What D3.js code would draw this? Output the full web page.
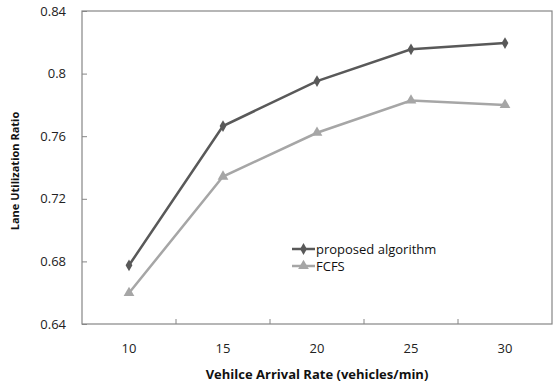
<!DOCTYPE html>
<html>
<head>
<meta charset="utf-8">
<script src="https://cdn.jsdelivr.net/npm/d3@7"></script>
<style>
  body { margin: 0; background: #fff; }
  text { font-family: "Open Sans", "Liberation Sans", sans-serif; }
</style>
</head>
<body>
<svg id="chart" width="553" height="385"></svg>
<script>
// data
var rates = ["10", "15", "20", "25", "30"];
var proposed = [0.6775, 0.7665, 0.7952, 0.8155, 0.8195];
var fcfs = [0.6598, 0.7342, 0.7622, 0.7828, 0.7800];
var yTicks = [0.64, 0.68, 0.72, 0.76, 0.8, 0.84];

var svg = d3.select("#chart");
var margin = {top: 11, right: 1, bottom: 61, left: 82},
    width = 553 - margin.left - margin.right,
    height = 385 - margin.top - margin.bottom;

var x = d3.scaleBand().domain(rates).range([0, width]);
var y = d3.scaleLinear().domain([0.64, 0.84]).range([height, 0]);

var g = svg.append("g")
    .attr("transform", "translate(" + margin.left + "," + margin.top + ")");

// plot frame
g.append("rect")
    .attr("width", width).attr("height", height)
    .attr("fill", "none").attr("stroke", "#868686").attr("stroke-width", 1.2);

// y axis
var yAxis = g.append("g")
    .call(d3.axisLeft(y).tickValues(yTicks).tickSize(5).tickSizeOuter(0)
        .tickFormat(function(d) { return String(+d.toFixed(2)); }));
yAxis.select(".domain").remove();
yAxis.selectAll(".tick line").attr("stroke", "#868686").attr("x1", 0).attr("x2", 5);
yAxis.selectAll(".tick text").attr("x", -16).attr("font-size", 13).attr("fill", "#222")
    .style("font-family", "'Open Sans', sans-serif");

// x axis with ticks between categories
var xg = g.append("g").attr("transform", "translate(0," + height + ")");
xg.selectAll("line.sep")
    .data(rates.slice(1))
    .enter().append("line")
    .attr("x1", function(d) { return x(d); })
    .attr("x2", function(d) { return x(d); })
    .attr("y1", 0).attr("y2", -5)
    .attr("stroke", "#868686");
xg.selectAll("text")
    .data(rates)
    .enter().append("text")
    .attr("x", function(d) { return x(d) + x.bandwidth() / 2; })
    .attr("y", 29)
    .attr("text-anchor", "middle")
    .attr("font-size", 13).attr("fill", "#222")
    .text(function(d) { return d; });

// axis titles
svg.append("text")
    .attr("x", margin.left + width / 2).attr("y", 379)
    .attr("text-anchor", "middle")
    .attr("font-size", 13).attr("font-weight", "bold").attr("fill", "#111")
    .text("Vehilce Arrival Rate (vehicles/min)");
svg.append("text")
    .attr("transform", "translate(19," + 171 + ") rotate(-90)")
    .attr("text-anchor", "middle")
    .attr("font-size", 11).attr("font-weight", "bold").attr("fill", "#111")
    .text("Lane Utilization Ratio");

var cx = function(d, i) { return x(rates[i]) + x.bandwidth() / 2; };
var line = d3.line()
    .x(function(d, i) { return cx(d, i); })
    .y(function(d) { return y(d); });

var series = [
    {name: "proposed algorithm", values: proposed, color: "#595959", symbol: d3.symbolDiamond, size: 40},
    {name: "FCFS", values: fcfs, color: "#a6a6a6", symbol: d3.symbolTriangle, size: 50}
];

series.forEach(function(s) {
    g.append("path")
        .datum(s.values)
        .attr("fill", "none")
        .attr("stroke", s.color)
        .attr("stroke-width", 2.5)
        .attr("d", line);
    g.selectAll(null)
        .data(s.values)
        .enter().append("path")
        .attr("d", d3.symbol().type(s.symbol).size(s.size))
        .attr("transform", function(d, i) { return "translate(" + cx(d, i) + "," + y(d) + ")"; })
        .attr("fill", s.color);
});

// legend
var legend = svg.append("g").attr("transform", "translate(292,249)");
series.forEach(function(s, i) {
    var row = legend.append("g").attr("transform", "translate(0," + (i * 17) + ")");
    row.append("line").attr("x1", 0).attr("x2", 23).attr("y1", 0).attr("y2", 0)
        .attr("stroke", s.color).attr("stroke-width", 2.5);
    row.append("path")
        .attr("d", d3.symbol().type(s.symbol).size(s.size))
        .attr("transform", "translate(11.5,0)")
        .attr("fill", s.color);
    row.append("text").attr("x", 24).attr("y", 5)
        .attr("font-size", 13).attr("fill", "#111")
        .text(s.name);
});
</script>
</body>
</html>
